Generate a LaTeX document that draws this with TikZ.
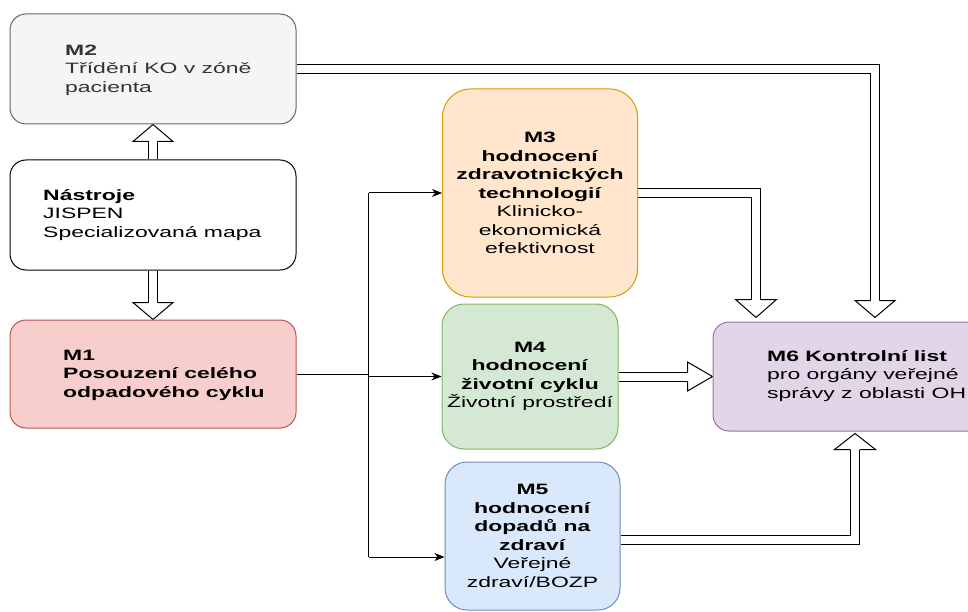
\documentclass[tikz,border=0pt]{standalone}
\usepackage{fontspec}
\setmainfont{Liberation Sans}[FakeStretch=1.53]
\usetikzlibrary{calc,arrows.meta,backgrounds}
\definecolor{mtwofill}{HTML}{F5F5F5}
\definecolor{mtwoline}{HTML}{666666}
\definecolor{mtwotext}{HTML}{333333}
\definecolor{monefill}{HTML}{F8CECC}
\definecolor{moneline}{HTML}{B85450}
\definecolor{mthreefill}{HTML}{FFE6CC}
\definecolor{mthreeline}{HTML}{D79B00}
\definecolor{mfourfill}{HTML}{D5E8D4}
\definecolor{mfourline}{HTML}{82B366}
\definecolor{mfivefill}{HTML}{DAE8FC}
\definecolor{mfiveline}{HTML}{6C8EBF}
\definecolor{msixfill}{HTML}{E1D5E7}
\definecolor{msixline}{HTML}{9673A6}
\begin{document}
\begin{tikzpicture}[x=1pt,y=-1pt,
  box/.style={draw, rounded corners=#1, line width=1pt, inner sep=0pt,
    font=\fontsize{15}{18.5}\selectfont},
  txt/.style={inner sep=0pt, font=\fontsize{15}{18.5}\selectfont},
  flex/.style={draw=black, line width=1pt, double=white, double distance=8pt, line join=miter},
  headshape/.style={fill=white, draw=black, line width=1pt, line join=miter},
  thinline/.style={draw=black, line width=1pt},
  thinarrow/.style={draw=black, line width=1pt, -{Stealth[length=10pt,width=8pt,inset=3pt]}}]
\useasboundingbox (0,0) rectangle (968,612);
\clip (0,0) rectangle (968,612);
% boxes
\node[box=16pt, fill=mtwofill, draw=mtwoline, minimum width=286pt, minimum height=110pt] (m2) at (153,69) {};
\node[txt, text=mtwotext, anchor=west, align=left] (m2t) at (65,70) {\textbf{M2}\\Třídění KO v zóně\\pacienta};
\node[box=16pt, fill=white, draw=black, minimum width=286pt, minimum height=110pt] (nas) at (153,215) {};
\node[txt, anchor=west, align=left] (nast) at (43,215) {\textbf{Nástroje}\\JISPEN\\Specializovaná mapa};
\node[box=16pt, fill=monefill, draw=moneline, minimum width=286pt, minimum height=108pt] (m1) at (153,374) {};
\node[txt, anchor=west, align=left] (m1t) at (63,375) {\textbf{M1}\\\textbf{Posouzení celého}\\\textbf{odpadového cyklu}};
\node[box=28pt, fill=mthreefill, draw=mthreeline, minimum width=195pt, minimum height=208pt, align=center] (m3) at (540,193)
  {\textbf{M3}\\\textbf{hodnocení}\\\textbf{zdravotnických}\\\textbf{technologií}\\Klinicko-\\ekonomická\\efektivnost};
\node[box=22pt, fill=mfourfill, draw=mfourline, minimum width=176pt, minimum height=145pt, align=center] (m4) at (530,376.5)
  {\textbf{M4}\\\textbf{hodnocení}\\\textbf{životní cyklu}\\Životní prostředí};
\node[box=22pt, fill=mfivefill, draw=mfiveline, minimum width=175pt, minimum height=148pt, align=center] (m5) at (532.5,536)
  {\textbf{M5}\\\textbf{hodnocení}\\\textbf{dopadů na}\\\textbf{zdraví}\\Veřejné\\zdraví/BOZP};
\node[box=16pt, fill=msixfill, draw=msixline, minimum width=286pt, minimum height=109pt] (m6) at (856,376.5) {};
\node[txt, anchor=west, align=left] (m6t) at (767,376) {\textbf{M6 Kontrolní list}\\pro orgány veřejné\\správy z oblasti OH};
% connector coordinates
\coordinate (t1) at (m2.south);
\coordinate (t2) at (m1.north);
\coordinate (t3) at ($(m6.north)+(19,-4)$);
\coordinate (t4) at ($(m6.north)+(-100,-4)$);
\coordinate (t5) at (m6.west |- m4.east);
\coordinate (t6) at ($(m6.south)+(-1,2)$);
\coordinate (s6) at ($(m5.east)+(0,4)$);
\coordinate (j) at ($(m1.east)+(72,0)$);
\coordinate (jt) at (j |- m3.west);
\coordinate (jb) at ($(m5.west -| j)+(0,21)$);
\begin{scope}[on background layer]
% flex arrows
\draw[flex] (nas.north) -- ($(t1)+(0,17)$);
\filldraw[headshape] ($(t1)+(-4.5,17)$) -- ($(t1)+(-20,17)$) -- (t1) -- ($(t1)+(20,17)$) -- ($(t1)+(4.5,17)$);
\draw[flex] (nas.south) -- ($(t2)+(0,-17)$);
\filldraw[headshape] ($(t2)+(-4.5,-17)$) -- ($(t2)+(-20,-17)$) -- (t2) -- ($(t2)+(20,-17)$) -- ($(t2)+(4.5,-17)$);
\draw[flex] (m2.east) -- (m2.east -| t3) -- ($(t3)+(0,-17)$);
\filldraw[headshape] ($(t3)+(-4.5,-17)$) -- ($(t3)+(-20,-17)$) -- (t3) -- ($(t3)+(20,-17)$) -- ($(t3)+(4.5,-17)$);
\draw[flex] (m3.east) -- (m3.east -| t4) -- ($(t4)+(0,-18)$);
\filldraw[headshape] ($(t4)+(-4.5,-18)$) -- ($(t4)+(-20.5,-18)$) -- (t4) -- ($(t4)+(20.5,-18)$) -- ($(t4)+(4.5,-18)$);
\draw[flex] (m4.east) -- ($(t5)+(-25,0)$);
\filldraw[headshape] ($(t5)+(-25,-4.5)$) -- ($(t5)+(-25,-14.5)$) -- (t5) -- ($(t5)+(-25,14.5)$) -- ($(t5)+(-25,4.5)$);
\draw[flex] (s6) -- (s6 -| t6) -- ($(t6)+(0,16)$);
\filldraw[headshape] ($(t6)+(-4.5,16)$) -- ($(t6)+(-20.5,16)$) -- (t6) -- ($(t6)+(20.5,16)$) -- ($(t6)+(4.5,16)$);
\end{scope}
% thin connectors
\draw[thinline] (m1.east) -- (j);
\draw[thinline] (jt) -- (jb);
\draw[thinarrow] (jt) -- (m3.west);
\draw[thinarrow] (j |- m4.west) -- (m4.west);
\draw[thinarrow] (jb) -- (jb -| m5.west);
\end{tikzpicture}
\end{document}
